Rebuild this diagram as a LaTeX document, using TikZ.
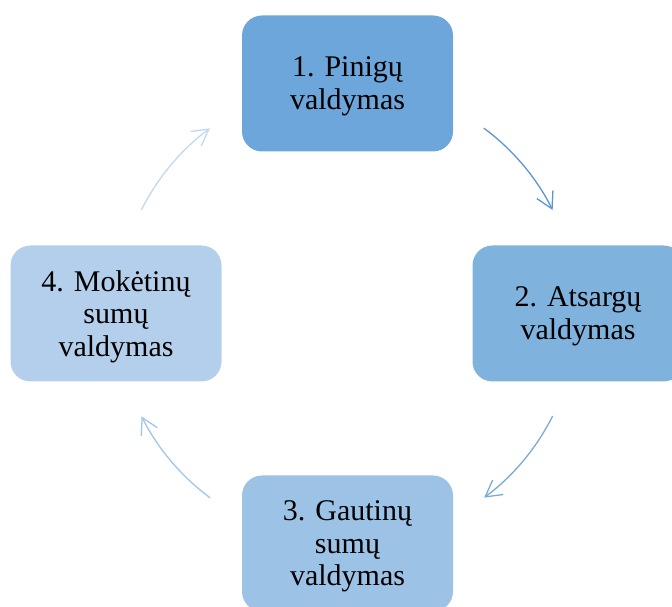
\documentclass[tikz,border=0pt]{standalone}
\usepackage{fontspec}
\setmainfont{Liberation Serif}
\usetikzlibrary{arrows.meta}
\definecolor{boxA}{HTML}{6CA6DA}
\definecolor{boxB}{HTML}{80B2DE}
\definecolor{boxC}{HTML}{9CC3E6}
\definecolor{boxD}{HTML}{B3CFEB}
\definecolor{arrA}{HTML}{5D95D2}
\definecolor{arrB}{HTML}{7AAADB}
\definecolor{arrC}{HTML}{A3C4E8}
\definecolor{arrD}{HTML}{C3D7EF}
\tikzset{
  stepbox/.style={rectangle, rounded corners=20pt, minimum width=211pt, minimum height=136pt, inner sep=0pt, draw=none},
  steptext/.style={align=center, inner sep=0pt, font=\fontsize{30}{32.5}\selectfont, text=black},
  cyclearrow/.style={line width=1.3pt, -{Straight Barb[length=16pt,width=18pt,line width=1.3pt]}}
}
\begin{document}
\begin{tikzpicture}[x=1pt,y=1pt]
\useasboundingbox (0,0) rectangle (672,607);
\clip (0,0) rectangle (672,607);
\node[stepbox, fill=boxA] (b1) at (347.5,523.5) {};
\node[stepbox, fill=boxB] (b2) at (578,293.5) {};
\node[stepbox, fill=boxC] (b3) at (347.5,63.5) {};
\node[stepbox, fill=boxD] (b4) at (116,293.5) {};
\node[steptext] (t1) at ([yshift=-3pt]b1.center) {1. Pinigų\\valdymas};
\node[steptext] (t2) at ([yshift=-3pt]b2.center) {2. Atsargų\\valdymas};
\node[steptext] (t3) at ([yshift=-3pt]b3.center) {3. Gautinų\\sumų\\valdymas};
\node[steptext] (t4) at ([yshift=-3pt]b4.center) {4. Mokėtinų\\sumų\\valdymas};
\coordinate (c) at (347,294);
\draw[cyclearrow, arrA] ([shift={(c)}]53.5:230pt) arc[start angle=53.5, end angle=26.6, radius=230pt];
\draw[cyclearrow, arrB] ([shift={(c)}]-26.6:230pt) arc[start angle=-26.6, end angle=-53.4, radius=230pt];
\draw[cyclearrow, arrC] ([shift={(c)}]-126.5:230pt) arc[start angle=-126.5, end angle=-153.3, radius=230pt];
\draw[cyclearrow, arrD] ([shift={(c)}]153.4:230pt) arc[start angle=153.4, end angle=126.6, radius=230pt];
\end{tikzpicture}
\end{document}
